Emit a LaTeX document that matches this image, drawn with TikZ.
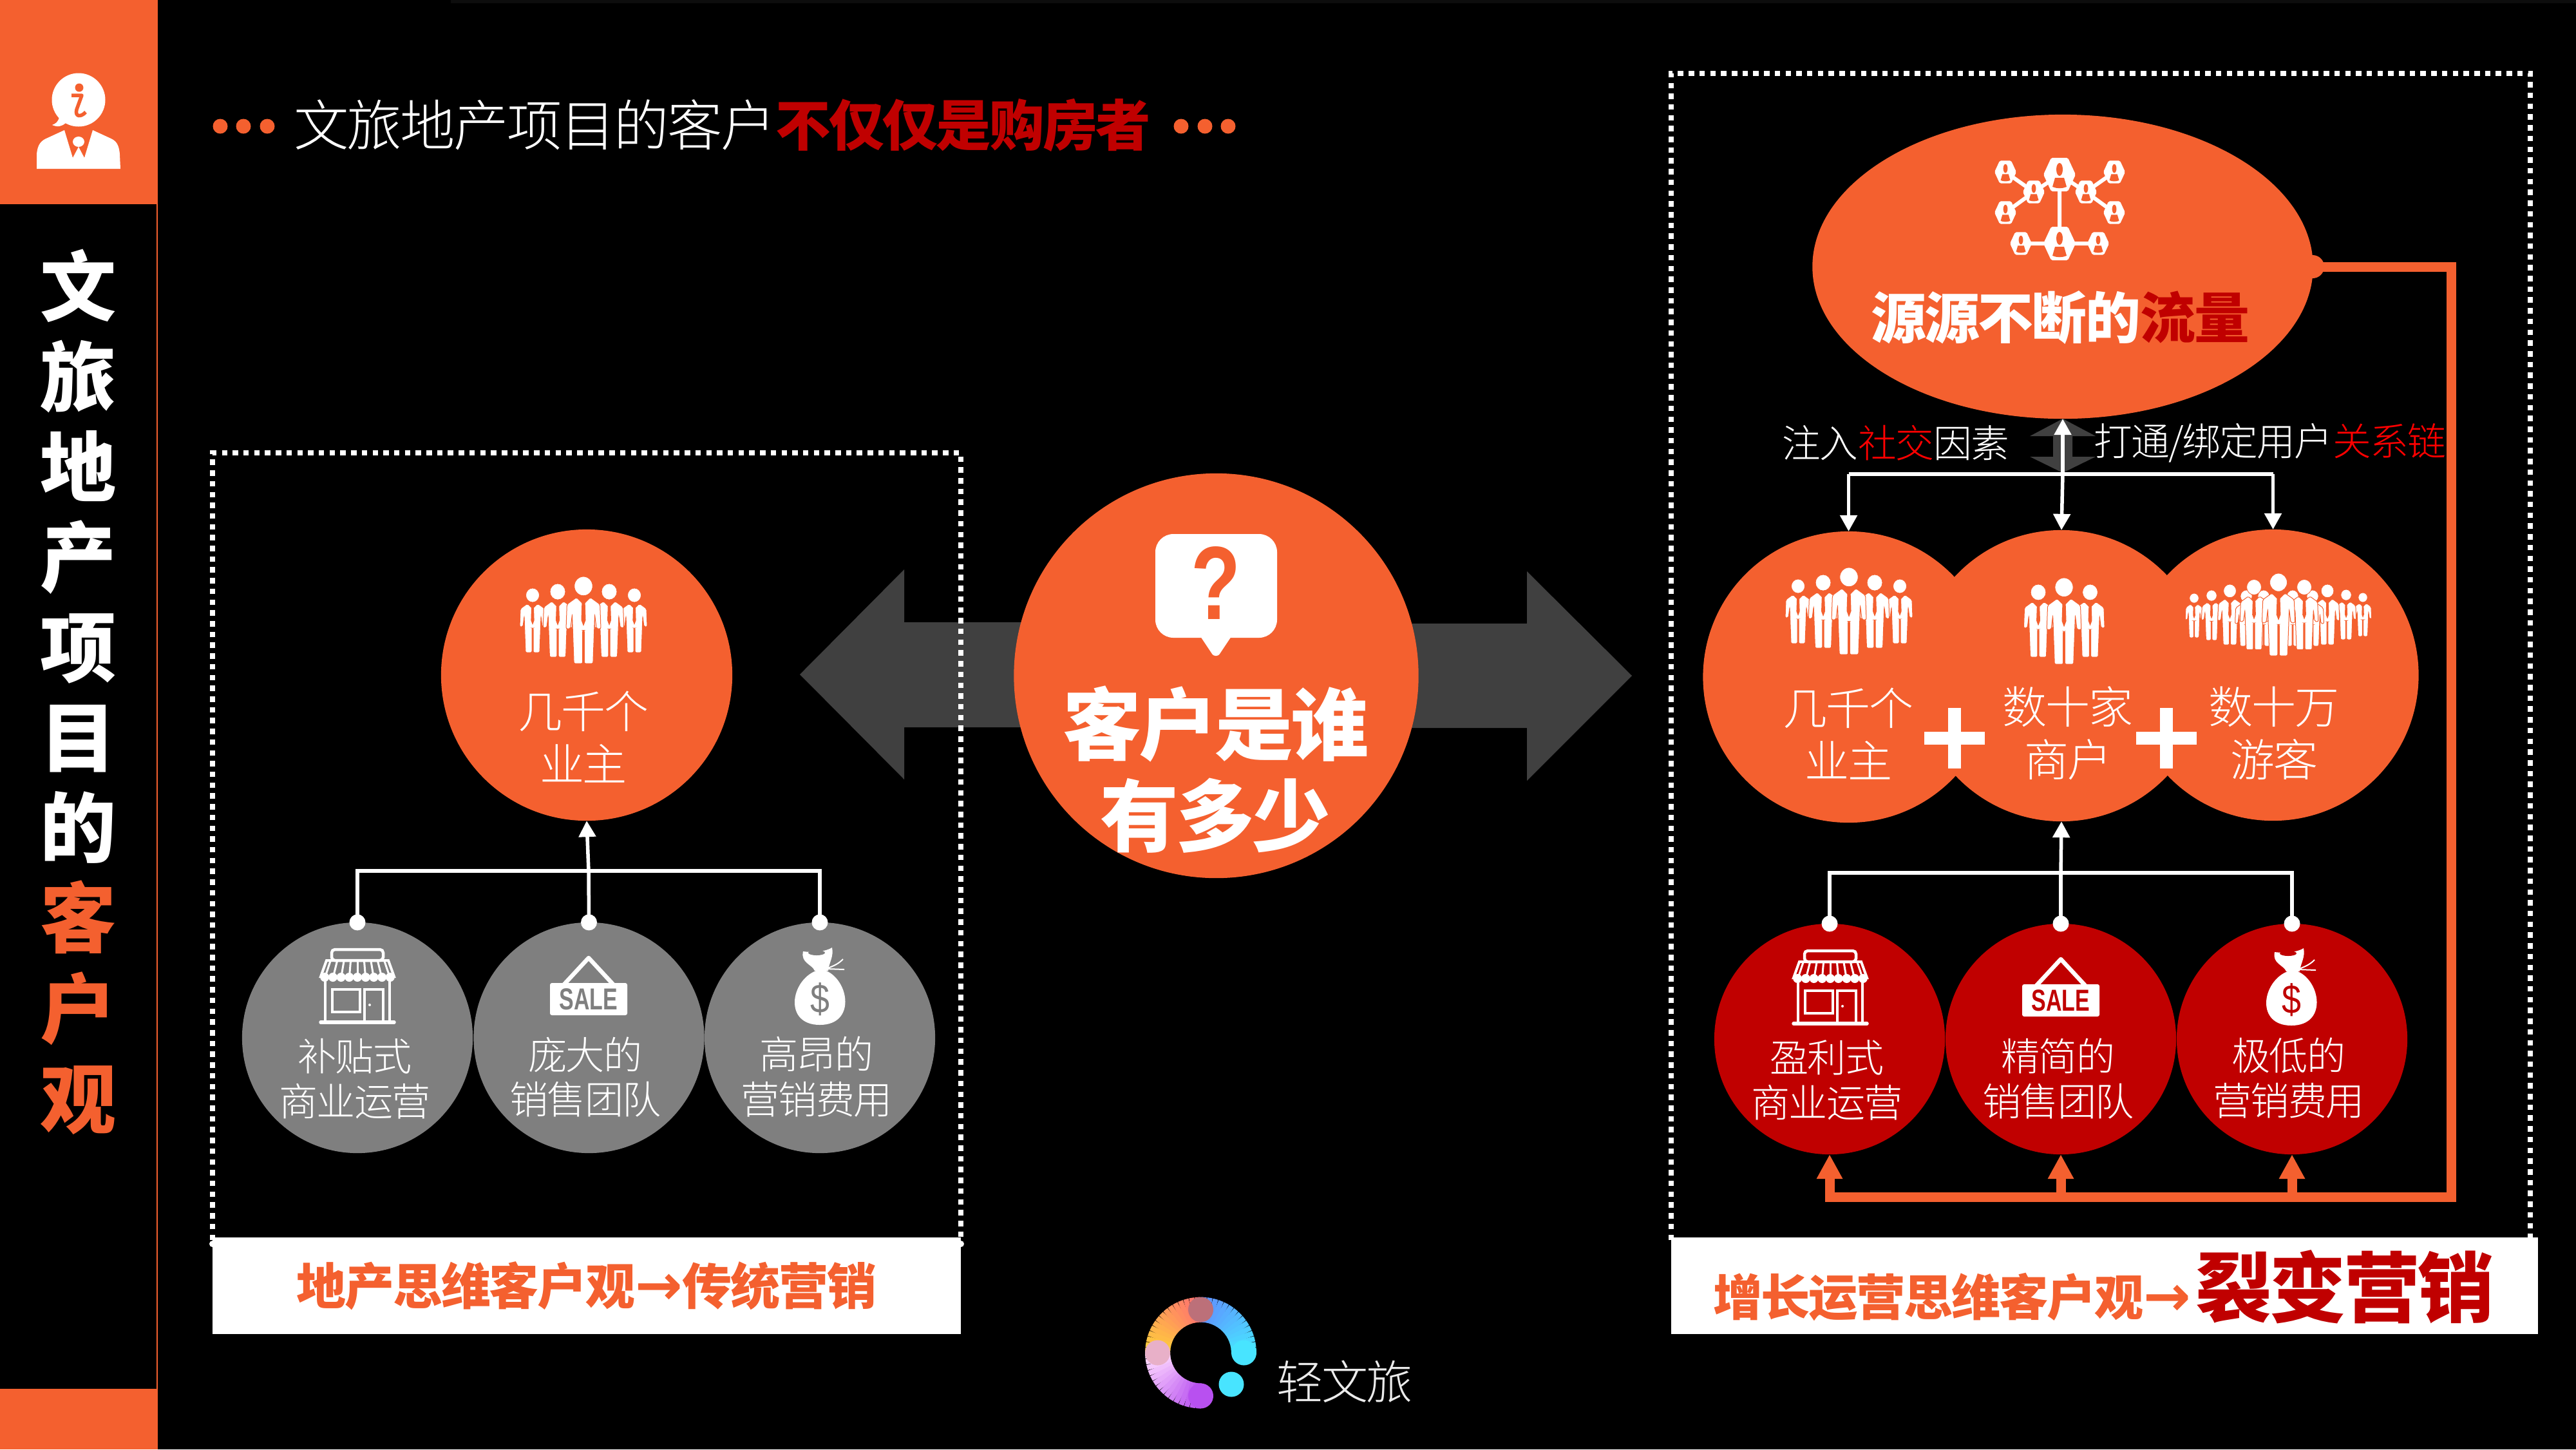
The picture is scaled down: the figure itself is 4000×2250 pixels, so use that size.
\documentclass[tikz,border=0pt]{standalone}
\usepackage{fontspec}
\usetikzlibrary{arrows.meta,shapes.geometric,calc}
\setmainfont[LetterSpace=-3]{Noto Sans CJK SC}
\newfontfamily\latinbold{Liberation Sans}
\newfontfamily\arrowfont{DejaVu Sans}
\IfFontExistsTF{Noto Sans CJK SC Light}{\newfontfamily\lightcjk[LetterSpace=-3]{Noto Sans CJK SC Light}}{\newfontfamily\lightcjk[LetterSpace=-3]{Noto Sans CJK SC}}
\definecolor{org}{HTML}{F4602F}
\definecolor{dred}{HTML}{C00000}
\definecolor{brt}{HTML}{FF0000}
\definecolor{gry}{HTML}{7F7F7F}
\definecolor{darr}{HTML}{404040}
\definecolor{lgA}{HTML}{FF7070}
\definecolor{lgB}{HTML}{FFD03A}
\definecolor{lgC}{HTML}{6090FF}
\definecolor{lgD}{HTML}{48E4FF}
\definecolor{lgE}{HTML}{FFDCFF}
\definecolor{lgF}{HTML}{B850F0}
\definecolor{lgG}{HTML}{BC7079}
\definecolor{lgH}{HTML}{E8B0C8}
\tikzset{
  x=0.01cm,y=-0.01cm,
  txt/.style={inner sep=0pt,outer sep=0pt,text=white,anchor=center},
  t67/.style={txt,align=center,font=\lightcjk\fontsize{19.63}{23.3}\selectfont},
  t58/.style={txt,align=center,font=\lightcjk\fontsize{17.1}{19.9}\selectfont},
  tb/.style={txt,font=\bfseries},
  disc/.style={circle,inner sep=0pt,outer sep=0pt,draw=none},
  bigdisc/.style={disc,fill=org,minimum size=4.52cm},
  smalldisc/.style={disc,minimum size=3.58cm},
  wline/.style={draw=white,line width=.055cm},
  warrow/.style={wline,-{Triangle[length=.25cm,width=.26cm]}},
  oline/.style={draw=org,line width=.15cm},
  oarrow/.style={oline,-{Triangle[length=.38cm,width=.38cm]}},
  dotline/.style={draw=white,line width=.08cm,dash pattern=on .085cm off .082cm},
  bar/.style={fill=white,draw=none},
}
\newcommand{\barrow}{{\arrowfont\bfseries\fontsize{25}{25}\selectfont →}}
% person: x centre, y top, height, background
\newcommand{\psn}[4]{%
\begin{scope}[shift={(#1,#2)},scale=#3/100]
\fill[white,draw=#4,line width=.008cm] (0,11) ellipse (10.5 and 11);
\path[fill=white,draw=#4,line width=.01cm,rounded corners=.02cm] (-8,24) -- (-19,32) -- (-20,60) -- (-15,60) -- (-13,44) -- (-11,100) -- (-1,100) -- (-1,62) -- (1,62) -- (1,100) -- (11,100) -- (13,44) -- (15,60) -- (20,60) -- (19,32) -- (8,24) -- (0,32) -- cycle;
\fill[#4] (-1.8,26) -- (1.8,26) -- (2.6,50) -- (0,57) -- (-2.6,50) -- cycle;
\end{scope}}
\newcommand{\fivepsn}[3]{%
\psn{#1-79}{#2+18}{100}{org}\psn{#1+79}{#2+18}{100}{org}%
\psn{#1-40}{#2+11}{114}{org}\psn{#1+40}{#2+11}{114}{org}%
\psn{#1}{#2}{135}{org}}
% network hexagon
\newcommand{\hexg}[3]{%
\begin{scope}[shift={(#1,#2)},scale=#3/25]
\fill[white,rounded corners=.02cm] (-25,0) -- (-13,-26) -- (13,-26) -- (25,0) -- (13,26) -- (-13,26) -- cycle;
\fill[org] (0,-8) ellipse (5 and 10);
\fill[org] (-7,5) -- (7,5) -- (11,19) .. controls (4,22) and (-4,22) .. (-11,19) -- cycle;
\end{scope}}
% shop
\newcommand{\shopicon}[3]{%
\begin{scope}[shift={(#1,#2)}]
\draw[white,line width=.045cm,rounded corners=.05cm] (-40,2) rectangle (40,19);
\draw[white,line width=.04cm] (-48,19) -- (48,19) -- (57,44) -- (-57,44) -- cycle;
\foreach \k in {-4,...,4}{\draw[white,line width=.03cm] (\k*10.5,20) -- (\k*12.5,44);\fill[white] (\k*12.7,45) circle (7);}
\draw[white,line width=.04cm] (-50,50) -- (-50,114);
\draw[white,line width=.04cm] (50,50) -- (50,114);
\draw[white,line width=.055cm,line cap=round] (-57,115) -- (57,115);
\draw[white,line width=.04cm] (-39,64) rectangle (4,99);
\draw[white,line width=.04cm] (11,114) -- (11,64) -- (40,64) -- (40,114);
\fill[white] (19,88) circle (2);
\end{scope}}
% sale sign
\newcommand{\saleicon}[3]{%
\begin{scope}[shift={(#1,#2)}]
\draw[white,line width=.065cm,line join=round] (-38,44) -- (0,3) -- (38,44);
\fill[white,rounded corners=.03cm] (-60,42) rectangle (60,92);
\node[txt,text=#3,xscale=.72,yscale=1.0,font=\latinbold\bfseries\fontsize{13.4}{13.4}\selectfont] at (0,67) {SALE};
\end{scope}}
% money bag
\newcommand{\bagicon}[3]{%
\begin{scope}[shift={(#1,#2)}]
\fill[white] (-26,6) .. controls (-10,8) and (10,6) .. (19,0) .. controls (22,14) and (14,24) .. (13,36) -- (-8,36) .. controls (-12,26) and (-30,24) .. (-26,6) -- cycle;
\fill[#3] (-5,8) ellipse (13 and 4);
\draw[white,line width=.02cm] (10,33) -- (38,34) (10,33) .. controls (22,28) and (28,26) .. (36,18);
\fill[white] (-6,36) .. controls (-46,52) and (-56,120) .. (0,120) .. controls (56,120) and (46,52) .. (10,36) -- cycle;
\node[txt,text=#3,xscale=.85,font=\latinbold\fontsize{18}{18}\selectfont] at (0,80) {\$};
\end{scope}}
\newcommand{\logoarc}[4]{% start, step, colour start, colour end
\foreach \i [evaluate=\i as \p using \i*100/14, evaluate=\i as \a using #1+#2*\i] in {0,...,14}{%
\draw[line width=.39cm,draw={#4!\p!#3}] ({1864.5+67*cos(\a)},{2100-67*sin(\a)}) -- ({1864.5+67*cos(\a+#2*1.15)},{2100-67*sin(\a+#2*1.15)});}}
\begin{document}
\begin{tikzpicture}
\useasboundingbox (0,0) rectangle (4000,2250);
\fill[black] (0,0) rectangle (4000,2250);
\fill[black!95!white] (700,0) rectangle (4000,5);
% sidebar
\fill[org] (0,0) rectangle (245,317);
\fill[org] (0,2156) rectangle (245,2250);
\fill[org] (242.5,317) rectangle (245,2156);
% sidebar icon
\fill[white] (122,155) circle (41.5);
\fill[white] (92,182) .. controls (90,190) and (86,192) .. (81,194) .. controls (90,198) and (96,196) .. (102,191) -- cycle;
\draw[org,line width=.055cm,line join=round] (111,148) -- (127,148) -- (119,170) .. controls (116,182) and (126,182) .. (133,174);
\fill[org] (123,136) circle (6.5);
\fill[white] (57,262) -- (57,240) .. controls (58,224) and (64,218) .. (74,214) -- (100,202) -- (113,245) -- (122,228) -- (131,245) -- (144,202) -- (170,214) .. controls (180,218) and (185,224) .. (186,240) -- (187,262) -- cycle;
\fill[white] (122,220) ellipse (9 and 8);
\node[tb,name=vt,align=center,font=\bfseries\fontsize{33.6}{39.83}\selectfont] at (122,1074) {文\\旅\\地\\产\\项\\目\\的\\{\color{org}客}\\{\color{org}户}\\{\color{org}观}};
% top title
\foreach \xx in {342,378,415,1834,1871,1907}{\fill[org] (\xx,196) circle (11.5);}
\node[txt,name=title,anchor=west,font=\lightcjk\fontsize{24.3}{24.3}\selectfont] at (456,194) {文旅地产项目的客户{\rmfamily\bfseries\color{dred}不仅仅是购房者}};
% big arrows
\fill[darr] (1242,1047) -- (1404,884) -- (1404,966) -- (1700,966) -- (1700,1129) -- (1404,1129) -- (1404,1210) -- cycle;
\fill[darr] (2534,1049) -- (2371,887) -- (2371,968) -- (2100,968) -- (2100,1130) -- (2371,1130) -- (2371,1212) -- cycle;
% dotted frames
\draw[dotline] (330,1925) -- (330,703) -- (1492,703) -- (1492,1925);
\draw[dotline] (2595,1925) -- (2595,114) -- (3929,114) -- (3929,1925);
% bottom bars
\fill[white] (330,1931) circle (5) (1492,1931) circle (5);
\node[name=lbar,bar,minimum width=11.62cm,minimum height=1.5cm,inner sep=0pt] at (911,1996) {};
\node[name=rbar,bar,minimum width=13.46cm,minimum height=1.5cm,inner sep=0pt] at (3268,1996) {};
\node[tb,name=ltext,text=org,font=\bfseries\fontsize{21.9}{21.9}\selectfont] at (911,1996) {地产思维客户观\barrow 传统营销};
\node[tb,name=rt1,anchor=west,text=org,font=\bfseries\fontsize{21.7}{21.7}\selectfont] at (2660,2013) {增长运营思维客户观\barrow};
\node[tb,name=rt2,anchor=west,text=dred,font=\bfseries\fontsize{33.7}{33.7}\selectfont] at (3409,1998) {裂变营销};
% centre
\node[disc,fill=org,minimum size=6.28cm,name=hub] at (1888.5,1049) {};
\fill[white,rounded corners=.28cm] (1794,829) rectangle (1983,990);
\fill[white,rounded corners=.03cm] (1862,985) -- (1914,985) -- (1892,1018) -- (1884,1018) -- cycle;
\node[txt,name=qm,text=org,xscale=.78,font=\latinbold\bfseries\fontsize{46}{46}\selectfont] at (1888,905) {?};
\node[tb,name=hub1,font=\bfseries\fontsize{34.6}{34.6}\selectfont] at (1888,1124) {客户是谁};
\node[tb,name=hub2,font=\bfseries\fontsize{34.6}{34.6}\selectfont] at (1887,1266) {有多少};
% left group
\node[bigdisc,name=ltop] at (911,1048) {};
\fivepsn{906}{895}{}
\node[t67,name=ltopt] at (906,1144) {几千个\\业主};
\node[smalldisc,fill=gry,name=g1] at (555,1611) {};
\node[smalldisc,fill=gry,name=g2] at (914.5,1611) {};
\node[smalldisc,fill=gry,name=g3] at (1273,1611) {};
\coordinate (lhub) at (914,1352);
\draw[wline] (g1.north) |- (lhub);
\draw[wline] (g3.north) |- (lhub);
\draw[wline] (g2.north) -- (lhub);
\draw[warrow] (lhub) -- (ltop.south);
\foreach \nn in {g1,g2,g3}{\fill[white] (\nn.north) circle (12.5);}
\shopicon{555}{1472}{gry}
\saleicon{914}{1484}{gry}
\bagicon{1273}{1471}{gry}
\node[t58,name=g1t] at (551,1675) {补贴式\\商业运营};
\node[t58,name=g2t] at (909,1672) {庞大的\\销售团队};
\node[t58,name=g3t] at (1268,1672) {高昂的\\营销费用};
% right: feedback line
\node[disc,fill=org,minimum size=.36cm,name=srcdot] at (3591,414) {};
\coordinate (fbA) at (3806,414);
\coordinate (fbB) at (3806,1858);
\coordinate (fbC) at (2841,1858);
\coordinate (fbD) at (3200,1858);
\coordinate (fbE) at (3559,1858);
% right: source ellipse
\node[ellipse,fill=org,inner sep=0pt,outer sep=0pt,minimum width=7.77cm,minimum height=4.72cm,name=src] at (3203,414) {};
\draw[oline,line join=miter] (srcdot.center) -- (fbA) -- (fbB) -- (fbC) -- (2841,1835);
\draw[line width=.06cm,white] (3114,267) -- (3158,298) -- (3114,330) (3283,267) -- (3239,298) -- (3283,330) (3158,298) -- (3198,271) -- (3239,298) (3198,271) -- (3198,378) (3138,378) -- (3258,378);
\hexg{3198}{271}{25}\hexg{3198}{378}{25}
\hexg{3158}{298}{17}\hexg{3239}{298}{17}
\hexg{3114}{267}{17}\hexg{3114}{330}{17}
\hexg{3283}{267}{17}\hexg{3283}{330}{17}
\hexg{3138}{378}{17}\hexg{3258}{378}{17}
\node[tb,name=srct,font=\bfseries\fontsize{24.4}{24.4}\selectfont] at (3199,493) {源源不断的{\color{dred}流量}};
% double arrow
\fill[darr] (3203,650) -- (3254,677) -- (3218,677) -- (3218,709) -- (3254,709) -- (3203,734) -- (3152,709) -- (3188,709) -- (3188,677) -- (3152,677) -- cycle;
% labels
\node[t58,name=lb1,font=\lightcjk\fontsize{17}{17}\selectfont] at (2944,688) {注入{\color{brt}社交}因素};
\node[t58,name=lb2,anchor=west,font=\lightcjk\fontsize{17}{17}\selectfont] at (3251,688) {打通/绑定用户{\color{brt}关系链}};
% middle discs
\node[bigdisc,name=m1] at (2870.5,1051) {};
\node[bigdisc,name=m2] at (3201,1049) {};
\node[bigdisc,name=m3] at (3529.5,1048) {};
\coordinate (thub) at (3203,736);
\draw[warrow] (thub) -- (src.south);
\draw[wline] (m1.north |- thub) -- (m3.north |- thub);
\draw[warrow] (m1.north |- thub) -- (m1.north);
\draw[warrow] (thub) -- (m2.north);
\draw[warrow] (m3.north |- thub) -- (m3.north);
\fivepsn{2871}{881}{}
\psn{3165}{907}{113}{org}\psn{3245.5}{907}{113}{org}\psn{3205}{897}{134}{org}
\psn{3407}{921}{69}{org}\psn{3669}{920}{68}{org}
\psn{3434}{916}{78}{org}\psn{3643}{915}{78}{org}
\psn{3462.5}{907}{94}{org}\psn{3614}{907}{94}{org}
\psn{3488}{916}{87}{org}\psn{3591}{916}{87}{org}
\psn{3515}{916}{87}{org}\psn{3560}{916}{87}{org}
\psn{3500}{899.5}{109}{org}\psn{3578}{899.5}{109}{org}
\psn{3538}{890}{128}{org}
\node[t67,name=m1t] at (2870,1139) {几千个\\业主};
\node[t67,name=m2t] at (3211,1138) {数十家\\商户};
\node[t67,name=m3t] at (3531,1138) {数十万\\游客};
\node[name=pl1,txt] at (3035,1146) {};
\node[name=pl2,txt] at (3364,1146) {};
\foreach \nn in {pl1,pl2}{\fill[white] ($(\nn)+(-47,-10)$) rectangle ($(\nn)+(47,10)$);\fill[white] ($(\nn)+(-10,-47)$) rectangle ($(\nn)+(10,47)$);}
% red discs
\node[smalldisc,fill=dred,name=r1] at (2841,1613) {};
\node[smalldisc,fill=dred,name=r2] at (3200,1613) {};
\node[smalldisc,fill=dred,name=r3] at (3559,1613) {};
\coordinate (bhub) at (3200,1355);
\draw[wline] (r1.north) |- (bhub);
\draw[wline] (r3.north) |- (bhub);
\draw[wline] (r2.north) -- (bhub);
\draw[warrow] (bhub) -- (m2.south);
\foreach \nn in {r1,r2,r3}{\fill[white] (\nn.north) circle (12.5);}
\draw[oarrow] (fbC) -- (r1.south);
\draw[oarrow] (fbD) -- (r2.south);
\draw[oarrow] (fbE) -- (r3.south);
\shopicon{2842}{1474}{dred}
\saleicon{3200}{1486}{dred}
\bagicon{3558}{1472}{dred}
\node[t58,name=r1t] at (2837,1677) {盈利式\\商业运营};
\node[t58,name=r2t] at (3196,1674) {精简的\\销售团队};
\node[t58,name=r3t] at (3554,1674) {极低的\\营销费用};
% logo
\logoarc{90}{6}{lgA}{lgB}
\logoarc{90}{-6}{lgC}{lgD}
\logoarc{180}{6}{lgE}{lgF}
\fill[lgD] (1931.5,2100) circle (19.5);
\fill[lgF] (1864.5,2167) circle (19.5);
\fill[lgG] (1864.5,2033) circle (19.5);
\fill[lgH] (1797.5,2100) circle (19.5);
\fill[lgD] (1912,2149) circle (19.5);
\node[txt,name=brand,text=black!8,font=\lightcjk\fontsize{20.5}{20.5}\selectfont] at (2088,2145) {轻文旅};
\end{tikzpicture}
\end{document}
